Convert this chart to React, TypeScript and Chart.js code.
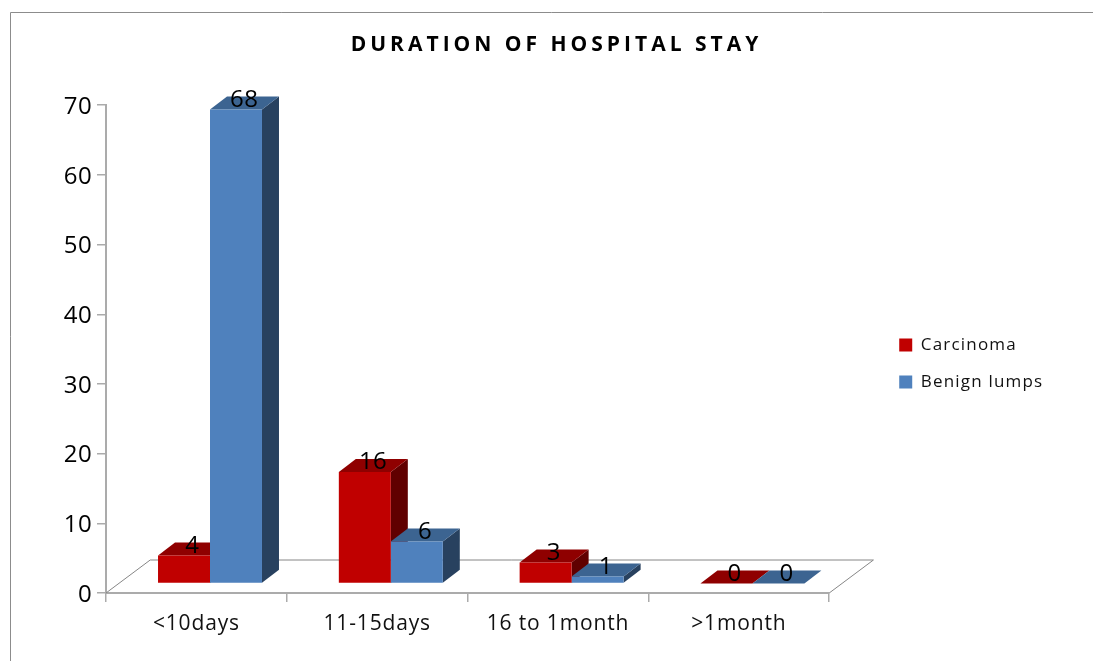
import React, { useEffect, useRef } from "react";
import { Chart, registerables } from "chart.js";

Chart.register(...registerables);

const categories = ["<10days", "11-15days", "16 to 1month", ">1month"];
const carcinoma = [4, 16, 3, 0];
const benignLumps = [68, 6, 1, 0];
const yTicksMax = 70;
const titleText = "DURATION OF HOSPITAL STAY";

const RED = { front: "#C00000", top: "#8F0000", side: "#600000" };
const BLUE = { front: "#4F81BD", top: "#3C6491", side: "#28415F" };
const FONT = "'Open Sans', 'Noto Sans', sans-serif";
const AXIS = "#ababab";
const OFF_X = 13.6;
const OFF_Y = -9.6;
const DEPTH_X = 17;
const DEPTH_Y = -13;

const poly = (ctx: CanvasRenderingContext2D, pts: number[][], fill: string) => {
  ctx.beginPath();
  pts.forEach(([x, y], i) => (i ? ctx.lineTo(x, y) : ctx.moveTo(x, y)));
  ctx.closePath();
  ctx.fillStyle = fill;
  ctx.fill();
};

const styled = (ctx: any, fn: () => void, spacing: string, tx = 0, ty = 0) => {
  ctx.save();
  ctx.letterSpacing = spacing;
  ctx.translate(tx, ty);
  fn();
  ctx.restore();
  ctx.letterSpacing = "0px";
};

const chart3d = {
  id: "chart3d",
  beforeDraw(chart: any) {
    const { ctx } = chart;
    if (!chart.__wrapped) {
      chart.__wrapped = true;
      const title = chart.titleBlock;
      const drawTitle = title.draw.bind(title);
      title.draw = () => styled(ctx, drawTitle, "4px");
      const legend = chart.legend;
      legend.right += 50;
      const drawLegend = legend.draw.bind(legend);
      legend.draw = () => styled(ctx, drawLegend, "1.2px", -54, 33);
      const x = chart.scales.x;
      const drawX = x.drawLabels.bind(x);
      x.drawLabels = (a: any) => styled(ctx, () => drawX(a), "0.85px");
      const y = chart.scales.y;
      const drawY = y.drawLabels.bind(y);
      y.drawLabels = (a: any) => styled(ctx, () => drawY(a), "0.4px", 0, 2);
    }
    ctx.save();
    ctx.strokeStyle = "#8c8c8c";
    ctx.lineWidth = 1;
    ctx.beginPath();
    ctx.moveTo(10.5, 661);
    ctx.lineTo(10.5, 12.5);
    ctx.lineTo(1093, 12.5);
    ctx.stroke();
    ctx.restore();
  },
  beforeDatasetsDraw(chart: any) {
    const { ctx, chartArea: a } = chart;
    ctx.save();
    ctx.strokeStyle = "#868686";
    ctx.lineWidth = 1;
    const dx = OFF_X * 3.25;
    const dy = 33;
    ctx.beginPath();
    ctx.moveTo(a.left, a.bottom);
    ctx.lineTo(a.left + dx, a.bottom - dy);
    ctx.lineTo(a.right + dx, a.bottom - dy);
    ctx.lineTo(a.right, a.bottom);
    ctx.stroke();
    ctx.translate(OFF_X, OFF_Y);
    [RED, BLUE].forEach((c, di) => {
      chart.getDatasetMeta(di).data.forEach((b: any) => {
        const l = b.x - b.width / 2;
        const r = b.x + b.width / 2;
        poly(ctx, [[r, b.y], [r + DEPTH_X, b.y + DEPTH_Y], [r + DEPTH_X, b.base + DEPTH_Y], [r, b.base]], c.side);
        poly(ctx, [[l, b.y], [l + DEPTH_X, b.y + DEPTH_Y], [r + DEPTH_X, b.y + DEPTH_Y], [r, b.y]], c.top);
      });
    });
  },
  afterDatasetsDraw(chart: any) {
    const { ctx } = chart;
    ctx.fillStyle = "#000";
    ctx.font = `24px ${FONT}`;
    (ctx as any).letterSpacing = "0.5px";
    ctx.textAlign = "center";
    ctx.textBaseline = "middle";
    chart.data.datasets.forEach((ds: any, di: number) => {
      chart.getDatasetMeta(di).data.forEach((b: any, i: number) => {
        ctx.fillText(String(ds.data[i]), b.x + 8.3, b.y - 9.6);
      });
    });
    (ctx as any).letterSpacing = "0px";
    ctx.restore();
  },
};

export default function App() {
  const ref = useRef<HTMLCanvasElement>(null);
  useEffect(() => {
    const chart = new Chart(ref.current as HTMLCanvasElement, {
      type: "bar",
      data: {
        labels: categories,
        datasets: [
          { label: "Carcinoma", data: carcinoma, backgroundColor: RED.front, clip: false as any },
          { label: "Benign lumps", data: benignLumps, backgroundColor: BLUE.front, clip: false as any },
        ],
      },
      plugins: [chart3d as any],
      options: {
        responsive: false,
        animation: false,
        layout: { padding: { left: 20, right: 0, top: 0, bottom: 0 } },
        datasets: { bar: { categoryPercentage: 0.575, barPercentage: 1 } },
        scales: {
          x: {
            grid: { offset: true, drawOnChartArea: false, drawTicks: true, tickLength: 9, color: AXIS, lineWidth: 1.5 },
            border: { color: AXIS, width: 2 },
            ticks: {
              color: "#111",
              font: { family: FONT, size: 21 },
              padding: 9,
              maxRotation: 0,
              autoSkip: false,
            },
            afterFit: (s: any) => {
              s.height = 68;
            },
          },
          y: {
            min: 0,
            max: yTicksMax,
            grid: { drawOnChartArea: false, drawTicks: true, tickLength: 9, color: AXIS, lineWidth: 1.5 },
            border: { color: AXIS, width: 2 },
            ticks: {
              stepSize: 10,
              color: "#000",
              font: { family: FONT, size: 24 },
              padding: 5,
            },
            afterFit: (s: any) => {
              s.width = 86;
            },
          },
          spacer: {
            type: "linear",
            position: "right",
            display: true,
            grid: { display: false },
            border: { display: false },
            ticks: { display: false },
            afterFit: (s: any) => {
              s.width = 104;
            },
          },
        },
        plugins: {
          tooltip: { enabled: false },
          title: {
            display: true,
            text: titleText,
            color: "#000",
            font: { family: FONT, size: 21, weight: "bold" },
            padding: { top: 32, bottom: 48 },
          },
          legend: {
            position: "right",
            align: "center",
            labels: {
              boxWidth: 13,
              boxHeight: 13,
              padding: 20,
              color: "#111",
              font: { family: FONT, size: 17 },
            },
          },
        },
      } as any,
    });
    return () => chart.destroy();
  }, []);
  return (
    <div style={{ position: "fixed", left: 0, top: 0, width: 1093, height: 661, background: "#fff" }}>
      <canvas ref={ref} width={1093} height={661} style={{ display: "block" }} />
    </div>
  );
}
